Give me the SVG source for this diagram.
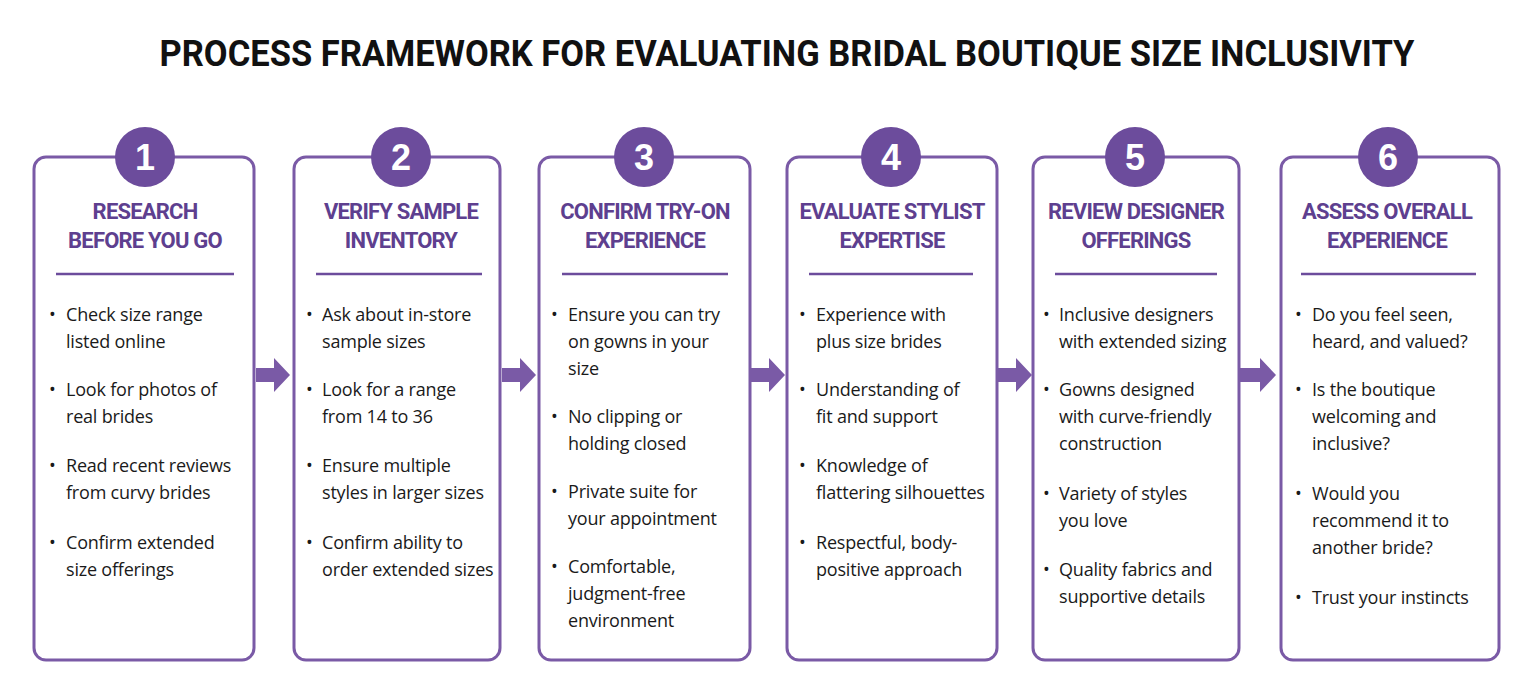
<svg xmlns="http://www.w3.org/2000/svg" width="1533" height="695" viewBox="0 0 1533 695">
<style>
.card{fill:#fff;stroke:#7a5aa6;stroke-width:3}
.num{fill:#6c4c9c}
.nt{font-family:"Liberation Sans",sans-serif;font-weight:bold;font-size:36px;fill:#fff;text-anchor:middle}
.hd{font-family:"Roboto","Liberation Sans",sans-serif;font-weight:bold;font-size:22px;letter-spacing:-0.8px;fill:#5e3f8f;text-anchor:middle}
.dv{stroke:#6c4c9c;stroke-width:2.5}
.bt{font-family:"Open Sans","Liberation Sans",sans-serif;font-size:18px;fill:#1a1a1a;letter-spacing:-0.2px}
.ar{fill:#7a5aa6}
</style>
<rect width="1533" height="695" fill="#fff"/>
<text x="787" y="66" font-family="Roboto,'Liberation Sans',sans-serif" font-weight="bold" font-size="37" text-anchor="middle" fill="#111" textLength="1255" lengthAdjust="spacingAndGlyphs">PROCESS FRAMEWORK FOR EVALUATING BRIDAL BOUTIQUE SIZE INCLUSIVITY</text>
<g id="connectors">
<path class="ar" d="M256,368 h18 v-10 l16,17 l-16,17 v-10 h-18z"/>
<path class="ar" d="M502,368 h18 v-10 l16,17 l-16,17 v-10 h-18z"/>
<path class="ar" d="M751,368 h18 v-10 l16,17 l-16,17 v-10 h-18z"/>
<path class="ar" d="M998,368 h18 v-10 l16,17 l-16,17 v-10 h-18z"/>
<path class="ar" d="M1240,368 h20 v-10 l16,17 l-16,17 v-10 h-20z"/>
</g>
<g id="step1">
<rect class="card" x="34" y="157" width="220" height="503" rx="12"/>
<circle class="num" cx="145" cy="157" r="30"/><text class="nt" x="145" y="170">1</text>
<text class="hd" x="145" y="219">RESEARCH</text><text class="hd" x="145" y="248">BEFORE YOU GO</text>
<line class="dv" x1="56" y1="274" x2="234" y2="274"/>
<g class="bt"><text x="49" y="321">•</text><text x="49" y="396">•</text><text x="49" y="472">•</text><text x="49" y="549">•</text>
<text x="66" y="321">Check size range</text><text x="66" y="348">listed online</text>
<text x="66" y="396">Look for photos of</text><text x="66" y="423">real brides</text>
<text x="66" y="472">Read recent reviews</text><text x="66" y="499">from curvy brides</text>
<text x="66" y="549">Confirm extended</text><text x="66" y="576">size offerings</text></g>
</g>
<g id="step2">
<rect class="card" x="294" y="157" width="206" height="503" rx="12"/>
<circle class="num" cx="401" cy="157" r="30"/><text class="nt" x="401" y="170">2</text>
<text class="hd" x="401" y="219">VERIFY SAMPLE</text><text class="hd" x="401" y="248">INVENTORY</text>
<line class="dv" x1="316" y1="274" x2="482" y2="274"/>
<g class="bt"><text x="306" y="321">•</text><text x="306" y="396">•</text><text x="306" y="472">•</text><text x="306" y="549">•</text>
<text x="322" y="321">Ask about in-store</text><text x="322" y="348">sample sizes</text>
<text x="322" y="396">Look for a range</text><text x="322" y="423">from 14 to 36</text>
<text x="322" y="472">Ensure multiple</text><text x="322" y="499">styles in larger sizes</text>
<text x="322" y="549">Confirm ability to</text><text x="322" y="576">order extended sizes</text></g>
</g>
<g id="step3">
<rect class="card" x="539" y="157" width="211" height="503" rx="12"/>
<circle class="num" cx="644" cy="157" r="30"/><text class="nt" x="644" y="170">3</text>
<text class="hd" x="645" y="219">CONFIRM TRY-ON</text><text class="hd" x="645" y="248">EXPERIENCE</text>
<line class="dv" x1="562" y1="274" x2="728" y2="274"/>
<g class="bt"><text x="551" y="321">•</text><text x="551" y="423">•</text><text x="551" y="498">•</text><text x="551" y="573">•</text>
<text x="568" y="321">Ensure you can try</text><text x="568" y="348">on gowns in your</text><text x="568" y="375">size</text>
<text x="568" y="423">No clipping or</text><text x="568" y="450">holding closed</text>
<text x="568" y="498">Private suite for</text><text x="568" y="525">your appointment</text>
<text x="568" y="573">Comfortable,</text><text x="568" y="600">judgment-free</text><text x="568" y="627">environment</text></g>
</g>
<g id="step4">
<rect class="card" x="787" y="157" width="210" height="503" rx="12"/>
<circle class="num" cx="891" cy="157" r="30"/><text class="nt" x="891" y="170">4</text>
<text class="hd" x="892" y="219">EVALUATE STYLIST</text><text class="hd" x="892" y="248">EXPERTISE</text>
<line class="dv" x1="809" y1="274" x2="973" y2="274"/>
<g class="bt"><text x="799" y="321">•</text><text x="799" y="396">•</text><text x="799" y="472">•</text><text x="799" y="549">•</text>
<text x="816" y="321">Experience with</text><text x="816" y="348">plus size brides</text>
<text x="816" y="396">Understanding of</text><text x="816" y="423">fit and support</text>
<text x="816" y="472">Knowledge of</text><text x="816" y="499">flattering silhouettes</text>
<text x="816" y="549">Respectful, body-</text><text x="816" y="576">positive approach</text></g>
</g>
<g id="step5">
<rect class="card" x="1033" y="157" width="206" height="503" rx="12"/>
<circle class="num" cx="1135" cy="157" r="30"/><text class="nt" x="1135" y="170">5</text>
<text class="hd" x="1136" y="219">REVIEW DESIGNER</text><text class="hd" x="1136" y="248">OFFERINGS</text>
<line class="dv" x1="1055" y1="274" x2="1217" y2="274"/>
<g class="bt"><text x="1043" y="321">•</text><text x="1043" y="396">•</text><text x="1043" y="500">•</text><text x="1043" y="576">•</text>
<text x="1059" y="321">Inclusive designers</text><text x="1059" y="348">with extended sizing</text>
<text x="1059" y="396">Gowns designed</text><text x="1059" y="423">with curve-friendly</text><text x="1059" y="450">construction</text>
<text x="1059" y="500">Variety of styles</text><text x="1059" y="527">you love</text>
<text x="1059" y="576">Quality fabrics and</text><text x="1059" y="603">supportive details</text></g>
</g>
<g id="step6">
<rect class="card" x="1281" y="157" width="218" height="503" rx="12"/>
<circle class="num" cx="1388" cy="157" r="30"/><text class="nt" x="1388" y="170">6</text>
<text class="hd" x="1387" y="219">ASSESS OVERALL</text><text class="hd" x="1387" y="248">EXPERIENCE</text>
<line class="dv" x1="1301" y1="274" x2="1476" y2="274"/>
<g class="bt"><text x="1295" y="321">•</text><text x="1295" y="396">•</text><text x="1295" y="500">•</text><text x="1295" y="604">•</text>
<text x="1312" y="321">Do you feel seen,</text><text x="1312" y="348">heard, and valued?</text>
<text x="1312" y="396">Is the boutique</text><text x="1312" y="423">welcoming and</text><text x="1312" y="450">inclusive?</text>
<text x="1312" y="500">Would you</text><text x="1312" y="527">recommend it to</text><text x="1312" y="554">another bride?</text>
<text x="1312" y="604">Trust your instincts</text></g>
</g>
</svg>
